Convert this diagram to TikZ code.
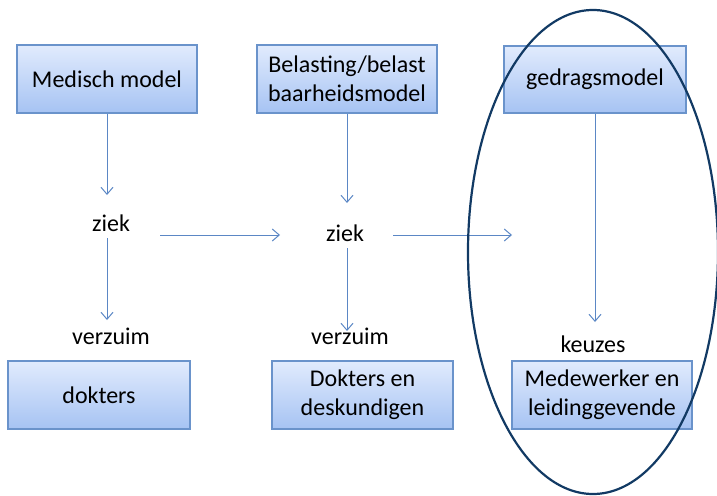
\documentclass[tikz,border=0pt]{standalone}
\usepackage{fontspec}
\setmainfont{Carlito}
\usetikzlibrary{arrows.meta}
\definecolor{boxtop}{HTML}{E1EBFD}
\definecolor{boxbot}{HTML}{A6C3F3}
\definecolor{boxline}{HTML}{6A93CB}
\definecolor{arrcol}{HTML}{5B87C5}
\definecolor{ellcol}{HTML}{123A64}
\begin{document}
\begin{tikzpicture}[x=1pt,y=-1pt,
  box/.style={rectangle,draw=boxline,line width=1.3pt,top color=boxtop,bottom color=boxbot,
    minimum width=180pt,minimum height=68pt,align=center,inner sep=0pt,
    font=\fontsize{24}{29}\selectfont},
  lbl/.style={inner sep=0pt,font=\fontsize{24}{29}\selectfont},
  arr/.style={draw=arrcol,line width=1pt,-{Straight Barb[length=7pt,width=12pt]}}]
\useasboundingbox (0,0) rectangle (717,495);
\node[box] (med) at (107,79) {Medisch model};
\node[box] (bel) at (347,79) {Belasting/belast\\baarheidsmodel};
\node[box,minimum width=182pt,minimum height=67pt] (ged) at (595,79.5) {gedragsmodel};
\node[box,minimum width=182pt] (dok) at (99,395) {dokters};
\node[box,minimum width=181pt] (dd) at (362.5,395) {Dokters en\\deskundigen};
\node[box] (mw) at (602,395) {Medewerker en\\leidinggevende};
\node[lbl] (ziek1) at (111,223) {ziek};
\node[lbl] (ziek2) at (345,233) {ziek};
\node[lbl] (verz1) at (111,336) {verzuim};
\node[lbl] (verz2) at (350,336) {verzuim};
\node[lbl] (keuz) at (593,344) {keuzes};
\coordinate (e1) at (107,195);
\coordinate (s2) at (107,238);
\coordinate (e2) at (107,320);
\coordinate (e3) at (347,203);
\coordinate (s4) at (347,248);
\coordinate (e4) at (347,331);
\coordinate (e5) at (595,322);
\coordinate (h1s) at (160,235);
\coordinate (h1e) at (280,235);
\coordinate (h2s) at (393,235);
\coordinate (h2e) at (512,235);
\draw[arr] (med.south) -- (e1);
\draw[arr] (s2) -- (e2);
\draw[arr] (bel.south) -- (e3);
\draw[arr] (s4) -- (e4);
\draw[arr] (ged.south) -- (e5);
\draw[arr] (h1s) -- (h1e);
\draw[arr] (h2s) -- (h2e);
\draw[draw=ellcol,line width=2.2pt] (593,252) ellipse [x radius=125pt,y radius=242pt];
\end{tikzpicture}
\end{document}
